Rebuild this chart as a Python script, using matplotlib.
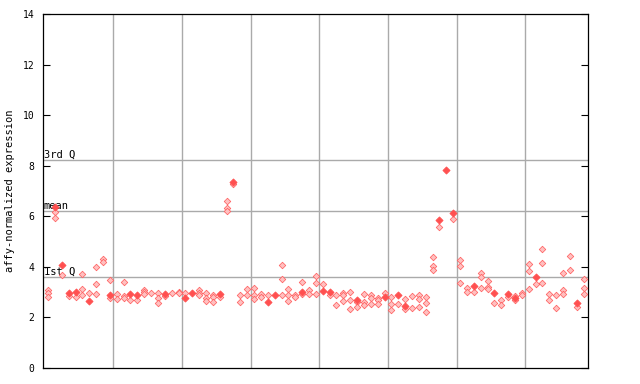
import matplotlib
matplotlib.use("Agg")
import matplotlib.pyplot as plt

# --- data -------------------------------------------------------------
sample_values = [
    [3.1, 2.95, 2.8], [6.38, 6.18, 5.92], [4.08, 3.68], [2.95, 2.85], [3.02, 2.8],
    [3.7, 3.12, 2.87], [2.95, 2.66], [3.98, 3.31, 2.91], [4.32, 4.2], [3.48, 2.89, 2.76],
    [2.92, 2.72], [3.39, 2.84, 2.76], [2.91, 2.68], [2.88, 2.68], [3.08, 3.0, 2.92],
    [2.95], [2.95, 2.76, 2.56], [2.94, 2.83], [2.95], [3.02, 2.95],
    [2.98, 2.76], [2.98], [3.08, 2.98, 2.89], [2.97, 2.76, 2.64], [2.88, 2.8, 2.62],
    [2.93, 2.82], [6.59, 6.32, 6.22], [7.37, 7.27], [2.87, 2.6], [3.14, 2.87],
    [3.16, 2.88, 2.72], [2.92, 2.82], [2.87, 2.61], [2.9], [4.06, 3.51, 2.9],
    [3.11, 2.9, 2.64], [2.89, 2.8], [3.41, 3.02, 2.93], [3.07, 2.93], [3.63, 3.35, 2.91],
    [3.32, 3.06], [2.99, 2.9], [2.89, 2.49], [2.98, 2.88, 2.64], [2.99, 2.69, 2.33],
    [2.7, 2.6, 2.42], [2.93, 2.6, 2.49], [2.88, 2.78, 2.54], [2.78, 2.69, 2.52], [2.98, 2.82],
    [2.82, 2.52, 2.28], [2.89, 2.54], [2.73, 2.45, 2.35], [2.83, 2.36], [2.87, 2.74, 2.4],
    [2.81, 2.56, 2.2], [4.38, 4.03, 3.87], [5.85, 5.56], [7.82], [6.12, 5.88],
    [4.27, 4.02, 3.35], [3.17, 2.99], [3.25, 2.99], [3.76, 3.59, 3.15], [3.43, 3.22, 3.11],
    [2.98, 2.56], [2.69, 2.48], [2.94, 2.8], [2.86, 2.78, 2.7], [2.95, 2.88],
    [4.1, 3.84, 3.12], [3.61, 3.31], [4.69, 4.14, 3.35], [2.91, 2.68], [2.87, 2.36],
    [3.74, 3.07, 2.91], [4.42, 3.87], [2.58, 2.4], [3.52, 3.15, 2.91],
]
# index of the solid (filled) marker in each sample, -1 = none
filled_index = [
    -1, 0, 0, 0, 0, -1, 1, -1, -1, 1,
    -1, -1, 0, 0, -1, -1, -1, 0, -1, -1,
    1, 0, -1, -1, -1, 0, -1, 0, -1, -1,
    -1, -1, 1, 0, -1, -1, -1, 1, -1, -1,
    1, 0, -1, -1, -1, 0, -1, -1, -1, 1,
    -1, 0, 1, -1, -1, -1, -1, 0, 0, 0,
    -1, -1, 0, -1, -1, 0, -1, 0, 1, -1,
    -1, 0, -1, -1, -1, -1, -1, 0, -1,
]
group_size = 10
quartile_labels = ["3rd Q", "mean", "1st Q"]
quartile_values = [8.21, 6.20, 3.60]
y_ticks = [0, 2, 4, 6, 8, 10, 12, 14]
y_label = "affy-normalized expression"

# --- figure -----------------------------------------------------------
W, H = 640, 384
fig = plt.figure(figsize=(W / 100, H / 100), dpi=100)
ax = fig.add_axes([43 / W, 16 / H, (588 - 43) / W, (368 - 14) / H])

red = "#ff5050"
hx, hy, fx, fy = [], [], [], []
for i, vals in enumerate(sample_values):
    for j, v in enumerate(vals):
        if j == filled_index[i]:
            fx.append(i); fy.append(v)
        else:
            hx.append(i); hy.append(v)

n = len(sample_values)
for k in range(group_size, n, group_size):
    ax.axvline(k - 0.5, color="#aaaaaa", lw=1.0, zorder=1)
for lab, v in zip(quartile_labels, quartile_values):
    ax.axhline(v, color="#aaaaaa", lw=1.0, zorder=1)
    ax.text(-0.6, v + 0.02, lab, ha="left", va="bottom", fontsize=7.5,
            family="DejaVu Sans Mono", color="black", zorder=2)

ax.scatter(hx, hy, marker="D", s=11, facecolor="#ffc0c0", edgecolor="#ff6060",
           linewidths=0.55, zorder=3)
ax.scatter(fx, fy, marker="D", s=13, facecolor=red, edgecolor=red,
           linewidths=0.6, zorder=4)

ax.set_xlim(-0.74, 78.63)
ax.set_ylim(0, 14)
ax.set_xticks([])
ax.set_yticks(y_ticks)
ax.set_yticklabels([str(t) for t in y_ticks], family="DejaVu Sans Mono", fontsize=7)
ax.tick_params(axis="y", direction="in", length=5, width=0.8, pad=6,
               right=True, left=True)
for s in ax.spines.values():
    s.set_linewidth(0.9)
    s.set_color("black")
ax.set_ylabel(y_label, family="DejaVu Sans Mono", fontsize=7.5, labelpad=6)

fig.savefig("out.png", dpi=100)
